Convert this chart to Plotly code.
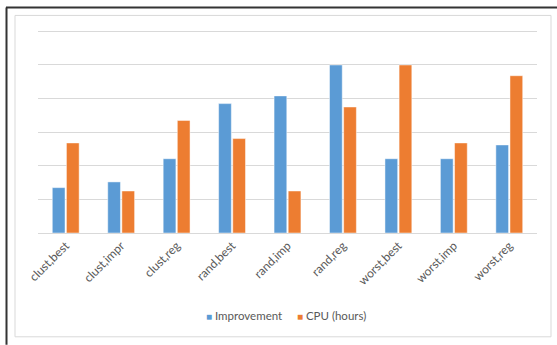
import plotly.graph_objects as go

# Scenario labels along the x axis
categories = ["clust,best", "clust,impr", "clust,reg", "rand,best", "rand,imp",
              "rand,reg", "worst,best", "worst,imp", "worst,reg"]

# Series values
improvement = [1.35, 1.52, 2.21, 3.85, 4.08, 5.0, 2.21, 2.21, 2.62]
cpu_hours = [2.68, 1.25, 3.35, 2.81, 1.25, 3.75, 5.0, 2.68, 4.68]

series_names = ["Improvement", "CPU (hours)"]
series_colors = ["#5B9BD5", "#ED7D31"]

W, H = 557, 345
L, R, T, B = 38, 20, 27.6, 112
pw, ph = W - L - R, H - T - B


def px_x(x):
    return (x - L) / pw


def px_y(y):
    return (H - B - y) / ph


fig = go.Figure()
for name, vals, col in zip(series_names, [improvement, cpu_hours], series_colors):
    fig.add_trace(go.Bar(
        x=categories, y=vals, name=name, showlegend=False,
        marker=dict(color=col, line=dict(color="rgba(255,255,255,0.6)", width=0.8)),
    ))

# compact legend: small square swatch followed by the series name
legend_html = "&nbsp;&nbsp;&nbsp;&nbsp;&nbsp;".join(
    f"<span style='color:{c}; font-size:10px'>■</span> {n}"
    for n, c in zip(series_names, series_colors)
)

shapes = [
    # chart area border
    dict(type="rect", xref="paper", yref="paper",
         x0=px_x(15), x1=px_x(551), y0=px_y(337), y1=px_y(15),
         line=dict(color="#D9D9D9", width=1), layer="below"),
    # dark frame edges
    dict(type="line", xref="paper", yref="paper",
         x0=px_x(6), x1=px_x(557), y0=px_y(7), y1=px_y(7),
         line=dict(color="#333333", width=2)),
    dict(type="line", xref="paper", yref="paper",
         x0=px_x(6.5), x1=px_x(6.5), y0=px_y(7), y1=px_y(345),
         line=dict(color="#333333", width=2)),
]

fig.update_layout(
    width=W, height=H,
    margin=dict(l=L, r=R, t=T, b=B),
    paper_bgcolor="white", plot_bgcolor="white",
    barmode="group", bargap=0.49, bargroupgap=0.1,
    font=dict(family="Lato", color="#595959", size=10),
    shapes=shapes,
    showlegend=False,
    annotations=[dict(
        text=legend_html, xref="paper", yref="paper",
        x=px_x(286), y=px_y(316), xanchor="center", yanchor="middle",
        showarrow=False, font=dict(size=11.5, color="#595959"),
    )],
    xaxis=dict(tickangle=-45, showgrid=False, showline=True,
               linecolor="#D9D9D9", linewidth=1, ticks="",
               tickfont=dict(size=12, color="#595959")),
    yaxis=dict(range=[0, 6.1], tickvals=[1, 2, 3, 4, 5, 6], showticklabels=False,
               showgrid=True, gridcolor="#D9D9D9", gridwidth=1,
               zeroline=False, showline=False, ticks=""),
)

fig.write_html("out.html")
